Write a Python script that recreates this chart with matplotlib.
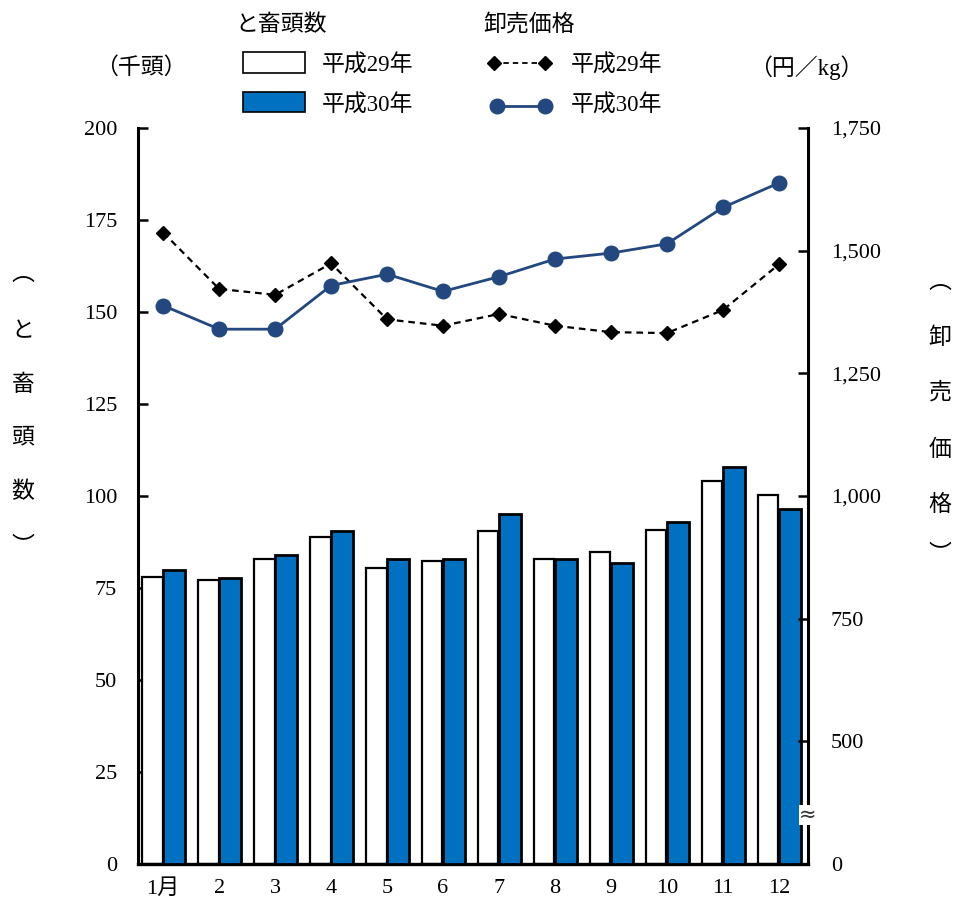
import matplotlib
matplotlib.use("Agg")
import matplotlib.pyplot as plt
from matplotlib.patches import Rectangle
from matplotlib.lines import Line2D
import numpy as np

plt.rcParams['font.family'] = ['Liberation Serif', 'Noto Sans CJK JP']

# Monthly data
months = ['1月', '2', '3', '4', '5', '6', '7', '8', '9', '10', '11', '12']
head_h29 = [78.1, 77.3, 82.9, 88.9, 80.3, 82.3, 90.5, 82.9, 84.9, 90.8, 104.0, 100.3]
head_h30 = [80.0, 77.8, 84.0, 90.5, 82.9, 82.9, 95.0, 82.9, 81.8, 92.8, 108.0, 96.5]
price_h29 = [1537, 1422, 1410, 1474, 1360, 1347, 1371, 1347, 1334, 1332, 1379, 1472]
price_h30 = [1388, 1340, 1340, 1429, 1452, 1417, 1447, 1483, 1495, 1514, 1588, 1638]

left_ticks = [0, 25, 50, 75, 100, 125, 150, 175, 200]
right_ticks = [250, 500, 750, 1000, 1250, 1500, 1750]
right_labels = ['0', '500', '750', '1,000', '1,250', '1,500', '1,750']

BLUE = '#0070C0'
NAVY = '#22487F'
FS = 16
JFS = 16.5

fig = plt.figure(figsize=(9.57, 9.05), dpi=100)
ax = fig.add_axes([138 / 957, 41 / 905, 670 / 957, 736 / 905])

x = np.arange(len(months))
w = 0.37
ax.bar(x - w / 2 - 0.01, head_h29, width=w, color='white', edgecolor='black', linewidth=1.6, zorder=2)
ax.bar(x + w / 2 + 0.01, head_h30, width=w + 0.03, color=BLUE, edgecolor='black', linewidth=2.0, zorder=3)

ax.set_xlim(-0.45, 11.52)
ax.set_ylim(0, 200)
ax.set_yticks(left_ticks)
ax.set_yticklabels([str(v) for v in left_ticks], fontsize=FS)
ax.set_xticks(x)
ax.set_xticklabels(months, fontsize=FS)
ax.tick_params(axis='x', length=0, pad=11)
ax.tick_params(axis='y', direction='in', length=7, width=1.8, pad=15)
ax.spines['top'].set_visible(False)
ax.spines['right'].set_visible(False)
ax.spines['left'].set_linewidth(2.2)
ax.spines['bottom'].set_linewidth(2.4)

ax2 = ax.twinx()
ax2.set_position(ax.get_position())
ax2.plot(x, price_h29, color='black', linestyle=(0, (3, 2.2)), linewidth=1.6,
         marker='D', markersize=7, zorder=4)
ax2.plot(x, price_h30, color=NAVY, linestyle='-', linewidth=2.0,
         marker='o', markersize=10.5, zorder=5)
ax2.set_ylim(250, 1750)
ax2.set_yticks(right_ticks)
ax2.set_yticklabels(right_labels, fontsize=FS)
ax2.tick_params(axis='y', direction='in', length=7, width=1.8, pad=16.5)
ax2.spines['top'].set_visible(False)
ax2.spines['left'].set_visible(False)
ax2.spines['bottom'].set_visible(False)
ax2.spines['right'].set_linewidth(2.2)

# Axis break mark on the right axis
ax2.text(1.0, 350, '≈', transform=ax2.get_yaxis_transform(), ha='center', va='center',
         fontsize=15, family='DejaVu Sans', color='#333333',
         bbox=dict(boxstyle='square,pad=0.0', facecolor='white', edgecolor='none'), zorder=10)

# Units
fig.text(141 / 957, 1 - 68 / 905, '（千頭）', ha='center', va='center', fontsize=JFS)
fig.text(806 / 957, 1 - 68 / 905, '（円／kg）', ha='center', va='center', fontsize=JFS)

# Vertical axis titles
left_title = ['︵', 'と', '畜', '頭', '数', '︶']
right_title = ['︵', '卸', '売', '価', '格', '︶']
left_y = [274, 332, 385, 438, 492, 548]
right_y = [282, 338, 393, 450, 505, 556]
for ch, yy in zip(left_title, left_y):
    fig.text(23 / 957, 1 - yy / 905, ch, ha='center', va='center', fontsize=JFS)
for ch, yy in zip(right_title, right_y):
    fig.text(940 / 957, 1 - yy / 905, ch, ha='center', va='center', fontsize=JFS)

# Legend: head count
fig.text(281 / 957, 1 - 25 / 905, 'と畜頭数', ha='center', va='center', fontsize=JFS)
fig.add_artist(Rectangle((243 / 957, 1 - 73 / 905), 62 / 957, 21 / 905, transform=fig.transFigure,
                         facecolor='white', edgecolor='black', linewidth=1.2))
fig.add_artist(Rectangle((243 / 957, 1 - 112 / 905), 62 / 957, 20 / 905, transform=fig.transFigure,
                         facecolor=BLUE, edgecolor='black', linewidth=1.2))
fig.text(322 / 957, 1 - 66 / 905, '平成29年', ha='left', va='center', fontsize=JFS)
fig.text(322 / 957, 1 - 106 / 905, '平成30年', ha='left', va='center', fontsize=JFS)

# Legend: wholesale price
fig.text(529 / 957, 1 - 25 / 905, '卸売価格', ha='center', va='center', fontsize=JFS)
fig.add_artist(Line2D([494 / 957, 545 / 957], [1 - 63 / 905, 1 - 63 / 905], transform=fig.transFigure,
                      color='black', linestyle=(0, (3, 2.2)), linewidth=1.3, marker='D', markersize=7))
fig.add_artist(Line2D([497 / 957, 545 / 957], [1 - 106 / 905, 1 - 106 / 905], transform=fig.transFigure,
                      color=NAVY, linewidth=2.0, marker='o', markersize=10.5))
fig.text(571 / 957, 1 - 66 / 905, '平成29年', ha='left', va='center', fontsize=JFS)
fig.text(571 / 957, 1 - 106 / 905, '平成30年', ha='left', va='center', fontsize=JFS)

fig.savefig('out.png', dpi=100)
